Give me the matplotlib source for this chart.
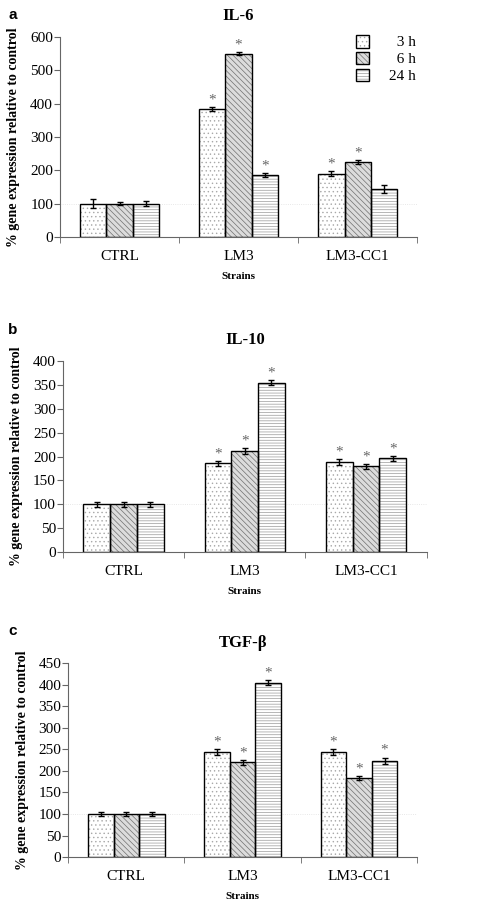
import numpy as np
import matplotlib
matplotlib.use("Agg")
import matplotlib.pyplot as plt
from matplotlib.patches import Patch
from matplotlib.legend_handler import HandlerTuple

plt.rcParams['font.family'] = ['Liberation Serif', 'DejaVu Serif']
plt.rcParams['hatch.linewidth'] = 0.5

# data
strains = ['CTRL', 'LM3', 'LM3-CC1']
times = ['  3 h', '  6 h', '24 h']

il6 = [[100, 383, 190], [100, 550, 225], [100, 185, 145]]
il6_err = [[13, 6, 7], [5, 5, 6], [7, 6, 12]]
il6_star = [[False, True, True], [False, True, True], [False, True, False]]

il10 = [[100, 186, 188], [100, 212, 180], [100, 355, 196]]
il10_err = [[5, 5, 6], [5, 6, 5], [5, 5, 5]]
il10_star = [[False, True, True], [False, True, True], [False, True, True]]

tgf = [[100, 244, 244], [100, 220, 184], [100, 405, 224]]
tgf_err = [[5, 6, 6], [5, 6, 5], [5, 6, 7]]
tgf_star = [[False, True, True], [False, True, True], [False, True, True]]

hatches = ['....', '\\\\\\\\\\\\', '------']
facecolors = ['white', '#dcdcdc', 'white']
hatchcolors = ['#a8a8a8', '#707070', '#9a9a9a']

fig = plt.figure(figsize=(4.8, 9.05), dpi=100)

panels = [
    ('a', 'IL-6', il6, il6_err, il6_star, 600, 100, [0.125, 0.738, 0.744, 0.221], 0.991),
    ('b', 'IL-10', il10, il10_err, il10_star, 400, 50, [0.131, 0.390, 0.758, 0.211], 0.643),
    ('c', 'TGF-β', tgf, tgf_err, tgf_star, 450, 50, [0.142, 0.053, 0.727, 0.214], 0.310),
]

x = np.arange(len(strains))
w = 0.22

for letter, title, vals, errs, stars, ymax, step, pos, ly in panels:
    ax = fig.add_axes(pos)
    for i in range(3):
        xs = x + (i - 1) * w
        # hatched fill, then black outline on top
        ax.bar(xs, vals[i], w, color=facecolors[i], edgecolor=hatchcolors[i],
               linewidth=0, hatch=hatches[i], zorder=2)
        ax.bar(xs, vals[i], w, fill=False, edgecolor='black', linewidth=1.0, zorder=2.5)
        ax.errorbar(xs, vals[i], yerr=errs[i], fmt='none', ecolor='black',
                    elinewidth=1.0, capsize=2, capthick=1.0, zorder=3)
        for j in range(3):
            if stars[i][j]:
                ax.text(xs[j], vals[i][j] + errs[i][j] + ymax * 0.003, '*',
                        ha='center', va='bottom', fontsize=11, color='#666666')
    ax.axhline(100, color='#e0e0e0', lw=0.6, ls=':', zorder=0)
    ax.set_xlim(-0.5, 2.5)
    ax.set_ylim(0, ymax)
    ax.set_yticks(np.arange(0, ymax + 1, step))
    ax.set_xticks(x)
    ax.set_xticklabels(strains)
    ax.set_xticks([-0.5, 0.5, 1.5, 2.5], minor=True)
    ax.tick_params(axis='x', which='major', length=0, labelsize=11, pad=9)
    ax.tick_params(axis='x', which='minor', length=4, color='#666666')
    ax.tick_params(axis='y', labelsize=11, length=4, color='#666666', pad=1)
    for s in ['top', 'right']:
        ax.spines[s].set_visible(False)
    ax.spines['left'].set_color('#666666')
    ax.spines['bottom'].set_color('#666666')
    ax.set_title(title, fontsize=12, fontweight='bold', pad=12)
    ax.set_xlabel('Strains', fontsize=8, fontweight='bold', labelpad=7)
    ax.set_ylabel('% gene expression relative to control', fontsize=10,
                  fontweight='bold', labelpad=7)
    fig.text(0.017, ly, letter, fontsize=11, fontweight='bold',
             family='Liberation Sans', ha='left', va='top')
    if letter == 'a':
        handles = [(Patch(facecolor=facecolors[i], edgecolor=hatchcolors[i], lw=0,
                          hatch=hatches[i]),
                    Patch(fill=False, edgecolor='black', lw=1.0)) for i in range(3)]
        ax.legend(handles, times, loc='upper right', bbox_to_anchor=(1.035, 1.08),
                  frameon=False, fontsize=11, handlelength=0.85, handleheight=0.9,
                  labelspacing=0.15, handletextpad=1.3,
                  handler_map={tuple: HandlerTuple(ndivide=1, pad=0)})

fig.savefig('out.png', dpi=100)
